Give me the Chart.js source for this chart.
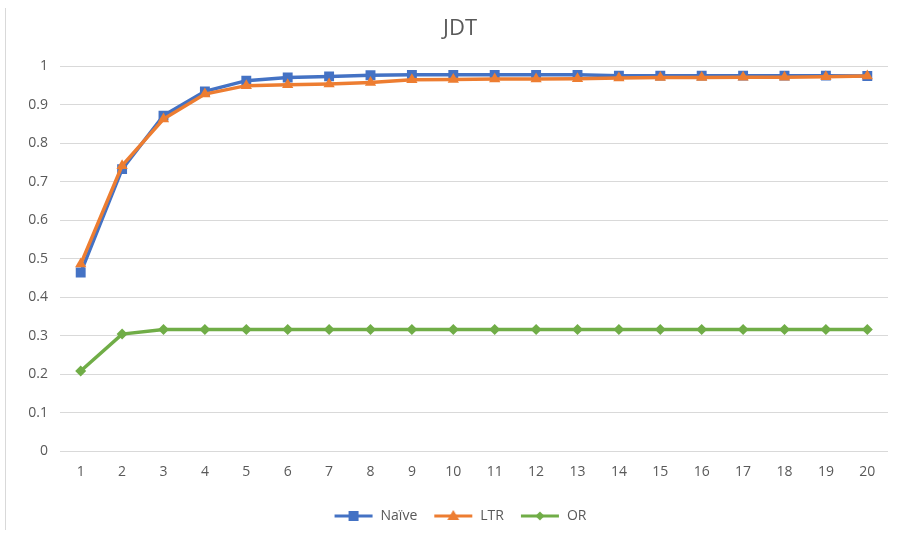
<!DOCTYPE html>
<html>
<head>
<meta charset="utf-8">
<script src="https://cdn.jsdelivr.net/npm/chart.js@4"></script>
<style>
  html, body { margin: 0; padding: 0; background: #fff; }
  #wrap { position: relative; width: 897px; height: 535px; }
  #edge { position: absolute; left: 5px; top: 8px; width: 1px; height: 522px; background: #d9d9d9; }
</style>
</head>
<body>
<div id="wrap">
  <div id="edge"></div>
  <canvas id="jdtChart" width="897" height="535"></canvas>
</div>
<script>
// values
const categories = ['1','2','3','4','5','6','7','8','9','10','11','12','13','14','15','16','17','18','19','20'];
const naive = [0.464, 0.733, 0.872, 0.935, 0.963, 0.971, 0.974, 0.977, 0.978, 0.978, 0.978, 0.978, 0.978, 0.976, 0.976, 0.976, 0.976, 0.976, 0.976, 0.975];
const ltr   = [0.486, 0.742, 0.863, 0.928, 0.950, 0.952, 0.954, 0.958, 0.965, 0.966, 0.967, 0.967, 0.968, 0.970, 0.971, 0.971, 0.972, 0.972, 0.973, 0.975];
const orr   = [0.208, 0.304, 0.316, 0.316, 0.316, 0.316, 0.316, 0.316, 0.316, 0.316, 0.316, 0.316, 0.316, 0.316, 0.316, 0.316, 0.316, 0.316, 0.316, 0.316];
const yTicks = [0, 0.1, 0.2, 0.3, 0.4, 0.5, 0.6, 0.7, 0.8, 0.9, 1];

const FONT = "'Open Sans', 'Liberation Sans', sans-serif";
const GREY = '#595959';

// excel style legend swatch: short line with the marker in the middle
function legendSwatch(color, style) {
	const c = document.createElement('canvas');
	c.width = 40; c.height = 14;
	const g = c.getContext('2d');
	g.strokeStyle = color;
	g.fillStyle = color;
	g.lineWidth = 3;
	g.beginPath();
	g.moveTo(1, 7); g.lineTo(39, 7);
	g.stroke();
	g.beginPath();
	if (style === 'rect') {
		g.rect(15, 2, 10, 10);
	} else if (style === 'triangle') {
		g.moveTo(20, 1); g.lineTo(26, 11); g.lineTo(14, 11); g.closePath();
	} else {
		g.moveTo(20, 2.5); g.lineTo(24.5, 7); g.lineTo(20, 11.5); g.lineTo(15.5, 7); g.closePath();
	}
	g.fill();
	return c;
}

const series = [
	{label: 'Naïve', data: naive, color: '#4472C4', style: 'rect', radius: 7, order: 2},
	{label: 'LTR', data: ltr, color: '#ED7D31', style: 'triangle', radius: 6.5, order: 1},
	{label: 'OR', data: orr, color: '#70AD47', style: 'rectRot', radius: 5.5, order: 0}
];

// the source picture is cropped on the right, so title and legend sit a bit right of centre
const shiftBlocks = {
	id: 'shiftBlocks',
	afterLayout(chart) {
		[chart.titleBlock, chart.legend].forEach(b => {
			if (b) { b.left += 16; b.right += 16; }
		});
	}
};

new Chart(document.getElementById('jdtChart'), {
	type: 'line',
	data: {
		labels: categories,
		datasets: series.map(s => ({
			label: s.label,
			data: s.data,
			order: s.order,
			borderColor: s.color,
			backgroundColor: s.color,
			borderWidth: 3.5,
			pointStyle: s.style,
			pointRadius: s.radius,
			pointHoverRadius: s.radius,
			pointBorderWidth: 0,
			tension: 0
		}))
	},
	plugins: [shiftBlocks],
	options: {
		responsive: false,
		animation: false,
		layout: {padding: {left: 0, right: 9, top: 0, bottom: 2}},
		plugins: {
			title: {
				display: true,
				text: 'JDT',
				color: GREY,
				font: {family: FONT, size: 22, weight: 'normal'},
				padding: {top: 16, bottom: 24}
			},
			legend: {
				position: 'bottom',
				labels: {
					color: GREY,
					font: {family: FONT, size: 14},
					usePointStyle: true,
					pointStyleWidth: 40,
					padding: 16,
					generateLabels: (chart) => {
						const items = Chart.defaults.plugins.legend.labels.generateLabels(chart);
						items.forEach(it => {
							const s = series[it.datasetIndex];
							it.pointStyle = legendSwatch(s.color, s.style);
						});
						return items.sort((a, b) => a.datasetIndex - b.datasetIndex);
					}
				}
			},
			tooltip: {enabled: false}
		},
		scales: {
			x: {
				offset: true,
				grid: {display: false},
				border: {display: false},
				ticks: {color: GREY, font: {family: FONT, size: 14}, padding: 5, maxRotation: 0},
				afterFit: (axis) => { axis.height = 42; }
			},
			y: {
				min: 0,
				max: 1,
				afterBuildTicks: (axis) => { axis.ticks = yTicks.map(v => ({value: v})); },
				grid: {color: '#d9d9d9', lineWidth: 1, drawTicks: false},
				border: {display: false},
				ticks: {color: GREY, font: {family: FONT, size: 14}, padding: 12, callback: (v) => String(v)},
				afterFit: (axis) => { axis.width = 60; }
			}
		}
	}
});
</script>
</body>
</html>
